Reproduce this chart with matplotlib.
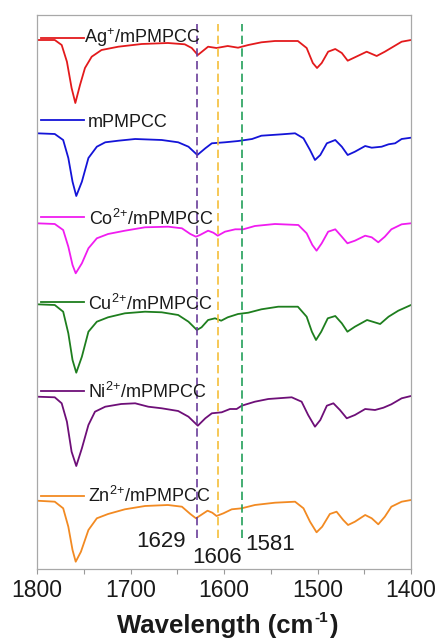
import matplotlib
matplotlib.use("Agg")
import matplotlib.pyplot as plt
from matplotlib.ticker import MultipleLocator

plt.rcParams['font.family'] = ['Liberation Sans', 'DejaVu Sans']
plt.rcParams['mathtext.fontset'] = 'custom'
plt.rcParams['mathtext.rm'] = 'Liberation Sans'
plt.rcParams['mathtext.it'] = 'Liberation Sans:italic'
plt.rcParams['mathtext.bf'] = 'Liberation Sans:bold'

# ---------------- data (stacked, inverted transmittance, a.u.) ----------------
ag_wn = [1800, 1781, 1773.6, 1768, 1763, 1759, 1754, 1748.7, 1741.5, 1731,
         1713, 1688, 1660, 1642, 1634.5, 1628, 1624, 1617, 1608, 1596,
         1585, 1574, 1560, 1545.5, 1521, 1511.6, 1505, 1500.5, 1495.5, 1488.6,
         1481, 1474, 1467.7, 1460, 1447.4, 1436.7, 1428, 1419, 1410, 1400]
ag_t = [40, 40, 45, 61.7, 88, 103, 85, 68, 56.7, 50,
        46.7, 44, 43, 44.3, 48, 55, 52, 46.7, 48, 46,
        47.7, 45, 42.3, 41, 41, 48, 63, 68, 63, 51.7,
        49, 53, 60.7, 57.3, 51.7, 56, 51.7, 46.7, 41.7, 40]

m_wn = [1800, 1781, 1772, 1766.5, 1762, 1758, 1752, 1745, 1736, 1727,
        1713, 1695, 1666.6, 1649, 1638, 1628.5, 1620, 1613, 1599, 1584.7,
        1570, 1560, 1538, 1524, 1515, 1508, 1502.7, 1497, 1490, 1481,
        1474, 1467.7, 1460, 1449, 1442, 1431.4, 1424, 1417, 1410, 1400]
m_t = [133.3, 134, 140, 158, 181.7, 196, 181.7, 158, 146.7, 142.3,
       140.7, 139, 140, 142.3, 146.7, 155, 148.3, 143.3, 142.3, 141,
       139, 135.7, 134.3, 133.3, 138.3, 150, 160, 155, 143.3, 140,
       146.7, 155, 151.7, 146, 147.7, 146.7, 144.3, 143.3, 139, 137.7]

co_wn = [1800, 1781, 1772, 1766.5, 1762, 1758.6, 1752, 1745, 1736, 1724,
         1706, 1684.5, 1659.6, 1645, 1636, 1630, 1625.7, 1617, 1611.4, 1606.7,
         1599, 1588, 1579.4, 1567, 1545.5, 1520.5, 1511.6, 1505.5, 1501, 1495.5,
         1488.6, 1481, 1474, 1468, 1460, 1449, 1442, 1435, 1428, 1421,
         1410, 1400]
co_t = [223.3, 224, 230, 246.7, 265, 273.3, 263.3, 248.3, 238.3, 234,
        230.7, 227.3, 226.7, 228.3, 234, 236.7, 235, 230.7, 232.7, 235.7,
        231.7, 229.3, 229.3, 226, 224, 225, 233.3, 245, 250.7, 243.3,
        231.7, 229.3, 236.7, 243.3, 240.7, 235.7, 237.3, 242.3, 236.7, 229.3,
        224.3, 223.3]

cu_wn = [1800, 1781, 1772, 1766.5, 1762, 1758, 1752, 1745, 1736, 1724,
         1706, 1684.5, 1666.6, 1649, 1638, 1629, 1624, 1617, 1609.6, 1603,
         1596, 1585, 1574, 1560, 1542, 1521, 1511.6, 1506, 1501.6, 1496,
         1489, 1481, 1474, 1468, 1460, 1447, 1433, 1424, 1413.6, 1400]
cu_t = [304.3, 305, 311.7, 333.3, 360, 372.7, 356.7, 331.7, 321.7, 317.3,
        313.3, 311.7, 312.3, 315, 321.7, 330, 327.3, 320, 318.3, 320.7,
        317.3, 314, 312.7, 309.3, 306.7, 306.7, 316.7, 331.7, 340, 331.7,
        318.3, 316, 323.3, 331.7, 326.7, 320, 324, 316.7, 310.7, 305]

ni_wn = [1800, 1781, 1773.6, 1768, 1763, 1758, 1752, 1745, 1738, 1727,
         1710, 1695, 1681, 1666.6, 1649, 1638, 1628, 1620, 1613, 1602.5,
         1593.6, 1586.5, 1581, 1567, 1552.6, 1527.6, 1517, 1510, 1502.7, 1497,
         1490, 1483, 1476, 1468.7, 1460, 1449, 1438.5, 1429.5, 1421, 1410,
         1400]
ni_t = [396.7, 397.3, 403.3, 421.7, 451.7, 466, 448.3, 425, 411.7, 406.7,
        404, 403.3, 406.7, 408.3, 411, 416.7, 425.7, 418.3, 413.3, 412.3,
        409, 409, 405.7, 401.7, 399, 397.3, 401.7, 415, 426.7, 420,
        405.7, 403.3, 410, 418.3, 415, 409, 410, 407.7, 404.3, 398.3,
        396]

zn_wn = [1800, 1781, 1772, 1766.5, 1762, 1758.6, 1753, 1745, 1736, 1724,
         1706, 1684.5, 1660, 1645, 1636, 1630, 1624.6, 1617.6, 1612.5, 1608,
         1600.6, 1591.7, 1581, 1567, 1545.5, 1524, 1515, 1508, 1501, 1495,
         1486.8, 1479.6, 1472.5, 1467.3, 1460, 1449, 1442, 1435, 1428, 1421,
         1410, 1400]
zn_t = [500.7, 501.7, 508.3, 526.7, 550, 561.7, 551.7, 530, 518.3, 514,
        509.3, 506, 505, 506.7, 514, 518.3, 515, 510.7, 512.7, 516,
        513.3, 509.3, 508.3, 505, 502.7, 501.7, 508.3, 521.7, 532.3, 526.7,
        514, 511.7, 520, 525, 521.7, 515, 518.3, 524.3, 516.7, 506.7,
        501.7, 500]

labels = [r'Ag$^{{+}}$/mPMPCC', 'mPMPCC', r'Co$^{2{+}}$/mPMPCC',
          r'Cu$^{2{+}}$/mPMPCC', r'Ni$^{2{+}}$/mPMPCC', r'Zn$^{2{+}}$/mPMPCC']
peaks = [1629, 1606, 1581]
peak_labels = ['1629', '1606', '1581']
xticks = [1800, 1700, 1600, 1500, 1400]
xlabel_main, xlabel_sup, xlabel_end = 'Wavelength (cm', '-1', ')'

# ---------------- styles / layout ----------------
colors = ['#e31a1c', '#1414d8', '#f01cf0', '#1e7e1e', '#6e0f78', '#f28a22']
peak_colors = ['#6a3d9a', '#f5bf3a', '#22a05a']
series = [(ag_wn, ag_t), (m_wn, m_t), (co_wn, co_t),
          (cu_wn, cu_t), (ni_wn, ni_t), (zn_wn, zn_t)]

W, H = 440, 641
AX_L, AX_R, AX_T, AX_B = 37, 411, 15, 569

fig = plt.figure(figsize=(W / 100, H / 100), dpi=100)
ax = fig.add_axes([AX_L / W, 1 - AX_B / H, (AX_R - AX_L) / W, (AX_B - AX_T) / H])


def fx(px):
    return (px - AX_L) / (AX_R - AX_L)


def fy(py):
    return (AX_B - py) / (AX_B - AX_T)


for (wn, t), c in zip(series, colors):
    ax.plot(wn, t, color=c, lw=1.3, solid_joinstyle='round')

# pseudo-legend entries (line + text) next to each trace
leg_line_y = [37.5, 120, 217, 302, 391, 496]
leg_text_y = [43, 127, 225, 310.5, 397.5, 502.5]
leg_text_x = [84, 88, 89, 88, 88, 88]
for lab, c, ly, ty, tx in zip(labels, colors, leg_line_y, leg_text_y, leg_text_x):
    ax.plot([fx(41), fx(84)], [fy(ly), fy(ly)], color=c, lw=1.3,
            transform=ax.transAxes, clip_on=False)
    ax.text(fx(tx), fy(ty), lab, transform=ax.transAxes, fontsize=13,
            ha='left', va='baseline', color='#1a1a1a')

# dashed reference lines
for p, c in zip(peaks, peak_colors):
    ax.axvline(p, ymin=fy(538), ymax=fy(24), color=c, lw=1.2,
               dashes=(5, 2.6))

# peak annotations
ann_x = [161, 217, 270]
ann_y = [547, 563, 550]
for s, axp, ayp in zip(peak_labels, ann_x, ann_y):
    ax.text(fx(axp), fy(ayp), s, transform=ax.transAxes, fontsize=16,
            ha='center', va='baseline', color='#1a1a1a')

ax.set_xlim(1800, 1400)
ax.set_ylim(AX_B, AX_T)
ax.set_xticks(xticks)
ax.xaxis.set_minor_locator(MultipleLocator(50))
ax.tick_params(axis='x', which='both', direction='out', length=3.5,
               width=0.8, color='#9a9a9a', labelsize=16.5, pad=4,
               labelcolor='#1a1a1a')
ax.set_yticks([])
for sp in ax.spines.values():
    sp.set_color('#a8a8a8')
    sp.set_linewidth(0.9)

# x-axis title with a plain-hyphen superscript, assembled piecewise
fig.canvas.draw()
rend = fig.canvas.get_renderer()
base_y = 1 - 633.5 / H
t1 = fig.text(117 / W, base_y, xlabel_main, fontsize=18.5, fontweight='bold',
              ha='left', va='baseline', color='#1a1a1a')
bb1 = t1.get_window_extent(rend)
t2 = fig.text((bb1.x1 + 1) / W, base_y + 11 / H, xlabel_sup, fontsize=11,
              fontweight='bold', ha='left', va='baseline', color='#1a1a1a')
bb2 = t2.get_window_extent(rend)
fig.text((bb2.x1 + 1.5) / W, base_y, xlabel_end, fontsize=18.5,
         fontweight='bold', ha='left', va='baseline', color='#1a1a1a')

fig.savefig('out.png', dpi=100)
